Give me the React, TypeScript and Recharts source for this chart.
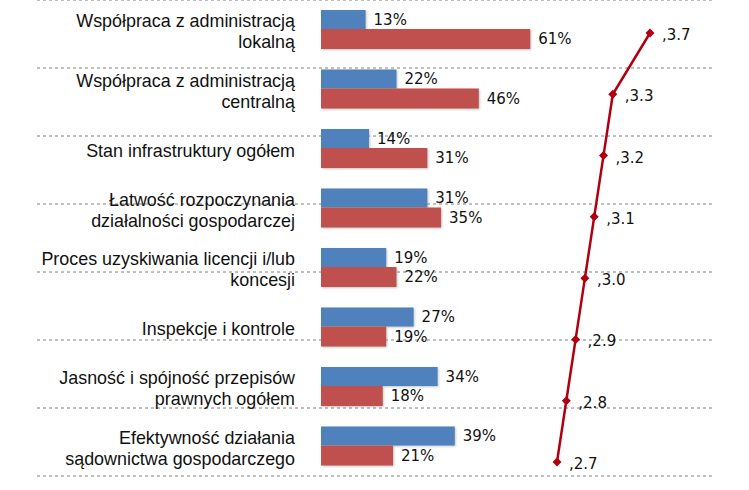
import React from "react";
import {
  ComposedChart,
  LineChart,
  Bar,
  Line,
  XAxis,
  YAxis,
  CartesianGrid,
  LabelList,
} from "recharts";

const categories = [
  "Współpraca z administracją\nlokalną",
  "Współpraca z administracją\ncentralną",
  "Stan infrastruktury ogółem",
  "Łatwość rozpoczynania\ndziałalności gospodarczej",
  "Proces uzyskiwania licencji i/lub\nkoncesji",
  "Inspekcje i kontrole",
  "Jasność i spójność przepisów\nprawnych ogółem",
  "Efektywność działania\nsądownictwa gospodarczego",
];
const blueValues = [13, 22, 14, 31, 19, 27, 34, 39];
const redValues = [61, 46, 31, 35, 22, 19, 18, 21];
const scoreValues = [3.7, 3.3, 3.2, 3.1, 3.0, 2.9, 2.8, 2.7];
const separatorTicks = [0, 1, 2, 3, 4, 5, 6, 7];

const data = categories.map((name, i) => ({
  name,
  blue: blueValues[i],
  red: redValues[i],
  score: scoreValues[i],
}));

const W = 749;
const H = 490;

function CategoryTick(props: any) {
  const { x, y, payload } = props;
  const lines = String(payload.value).split("\n");
  const lh = 21;
  const start = y + 2 - ((lines.length - 1) * lh) / 2;
  return (
    <text
      textAnchor="end"
      fontFamily="'Liberation Sans', Arial, sans-serif"
      fontSize={17.9}
      fill="#111"
    >
      {lines.map((l, i) => (
        <tspan key={i} x={x} y={start + i * lh} dominantBaseline="central">
          {l}
        </tspan>
      ))}
    </text>
  );
}

function Diamond(props: any) {
  const { cx, cy } = props;
  if (cx == null || cy == null) return null;
  const r = 4.5;
  return (
    <polygon
      points={`${cx},${cy - r} ${cx + r},${cy} ${cx},${cy + r} ${cx - r},${cy}`}
      fill="#B00010"
    />
  );
}

function ScoreLabel(props: any) {
  const { x, y, value } = props;
  return (
    <text
      x={x + 12}
      y={y + 2}
      dominantBaseline="central"
      fontFamily="'DejaVu Sans', Verdana, sans-serif"
      fontSize={15}
      fill="#111"
    >
      {"," + Number(value).toFixed(1)}
    </text>
  );
}

const layer: React.CSSProperties = { position: "absolute", left: 0, top: 0 };

export default function App() {
  return (
    <div style={{ position: "absolute", left: 0, top: 0, width: W, height: H, background: "#fff" }}>
      <style>{`.bars .recharts-bar-rectangle path { filter: drop-shadow(1px 1px 1px rgba(120,130,120,0.45)); }`}</style>
      <div style={layer}>
        <ComposedChart
          width={W}
          height={H}
          data={data}
          layout="vertical"
          margin={{ top: 0, right: 36, bottom: 14, left: 37 }}
        >
          <CartesianGrid
            vertical={false}
            horizontal
            stroke="#808080"
            strokeDasharray="3 3"
          />
          <XAxis type="number" domain={[0, 1]} hide />
          <YAxis type="number" domain={[0, 8]} ticks={separatorTicks} hide width={0} />
        </ComposedChart>
      </div>
      <div style={layer} className="bars">
        <ComposedChart
          width={W}
          height={H}
          data={data}
          layout="vertical"
          barGap={0}
          margin={{ top: 0, right: 85, bottom: 14, left: 0 }}
        >
          <XAxis type="number" domain={[0, 100]} hide />
          <YAxis
            type="category"
            dataKey="name"
            width={321}
            interval={0}
            axisLine={false}
            tickLine={false}
            tickSize={0}
            tickMargin={26}
            tick={<CategoryTick />}
          />
          <Bar dataKey="blue" fill="#4F81BD" barSize={19} isAnimationActive={false}>
            <LabelList
              dataKey="blue"
              position="right"
              offset={8}
              formatter={(v: any) => `${v}%`}
              fontFamily="'DejaVu Sans', Verdana, sans-serif"
              fontSize={15}
              fill="#111"
            />
          </Bar>
          <Bar dataKey="red" fill="#C0504D" barSize={20} isAnimationActive={false}>
            <LabelList
              dataKey="red"
              position="right"
              offset={8}
              formatter={(v: any) => `${v}%`}
              fontFamily="'DejaVu Sans', Verdana, sans-serif"
              fontSize={15}
              fill="#111"
            />
          </Bar>
        </ComposedChart>
      </div>
      <div style={layer}>
        <LineChart
          width={W}
          height={H}
          data={data}
          layout="vertical"
          margin={{ top: 33, right: 99, bottom: 28, left: 557 }}
        >
          <XAxis type="number" domain={[2.7, 3.7]} hide />
          <YAxis type="category" dataKey="name" scale="point" hide width={0} />
          <Line
            dataKey="score"
            stroke="#B00010"
            strokeWidth={2.5}
            dot={<Diamond />}
            activeDot={false}
            isAnimationActive={false}
          >
            <LabelList dataKey="score" content={<ScoreLabel />} />
          </Line>
        </LineChart>
      </div>
    </div>
  );
}
